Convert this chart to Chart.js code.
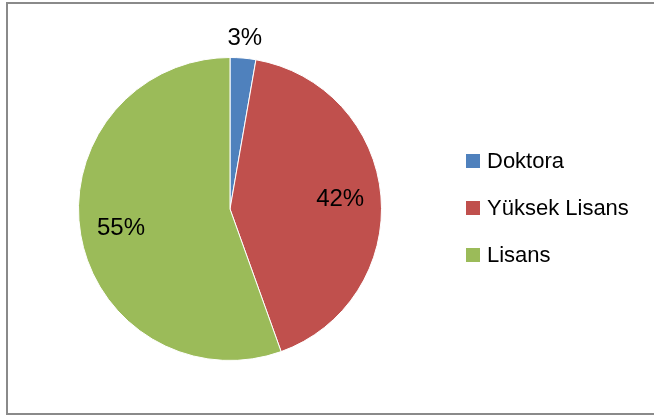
<!DOCTYPE html>
<html>
<head>
<meta charset="utf-8">
<script src="https://cdn.jsdelivr.net/npm/chart.js@4"></script>
<style>
  body { margin: 0; background: #fff; }
  canvas { display: block; }
</style>
</head>
<body>
<canvas id="chart_pie" width="654" height="416"></canvas>
<script>
// slice data (counts, shares 3/42/55 %)
var labels = ['Doktora', 'Yüksek Lisans', 'Lisans'];
var values = [4, 61, 81];
var colors = ['#4F81BD', '#C0504D', '#9BBB59'];

var FONT = '"Liberation Sans", Arial, sans-serif';

var chart_pie = new Chart(document.getElementById('chart_pie'), {
    type: 'pie',
    data: {
        labels: labels,
        datasets: [{
            data: values,
            backgroundColor: colors,
            borderColor: '#ffffff',
            borderWidth: 1
        }]
    },
    options: {
        animation: false,
        responsive: false,
        layout: {
            padding: { left: 78, right: 272, top: 57, bottom: 55 }
        },
        plugins: {
            legend: { display: false },
            tooltip: { enabled: false }
        }
    },
    plugins: [{
        id: 'frameAndLabels',
        beforeDraw: (chart) => {
            const ctx = chart.ctx;
            ctx.save();
            ctx.fillStyle = 'white';
            ctx.fillRect(0, 0, chart.width, chart.height);
            ctx.strokeStyle = '#8a8a8a';
            ctx.lineWidth = 2;
            ctx.strokeRect(7, 3, 700, 411);
            ctx.restore();
        },
        afterDraw: (chart) => {
            const ctx = chart.ctx;
            const meta = chart.getDatasetMeta(0);
            const total = values.reduce((a, b) => a + b, 0);
            ctx.save();
            // percentage labels
            ctx.fillStyle = '#000';
            ctx.font = '24px ' + FONT;
            ctx.textAlign = 'center';
            ctx.textBaseline = 'middle';
            meta.data.forEach((arc, i) => {
                const share = values[i] / total;
                const mid = (arc.startAngle + arc.endAngle) / 2;
                const r = share < 0.05 ? arc.outerRadius + 20 : arc.outerRadius * 0.73;
                const x = arc.x + Math.cos(mid) * r;
                const y = arc.y + Math.sin(mid) * r;
                ctx.fillText(Math.round(share * 100) + '%', x, y);
            });
            // legend
            ctx.font = '22px ' + FONT;
            ctx.textAlign = 'left';
            labels.forEach((lab, i) => {
                const top = 154 + i * 47;
                ctx.fillStyle = colors[i];
                ctx.fillRect(466, top, 14, 14);
                ctx.fillStyle = '#000';
                ctx.fillText(lab, 487, top + 8);
            });
            ctx.restore();
        }
    }]
});
</script>
</body>
</html>
